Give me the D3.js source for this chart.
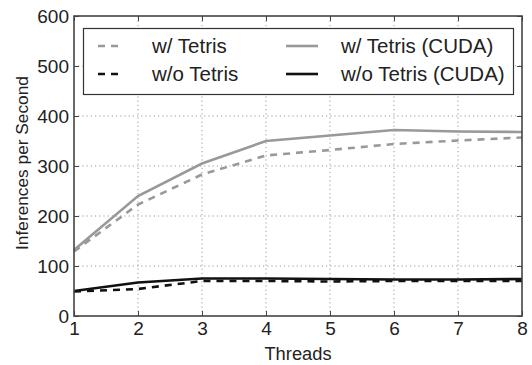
<!DOCTYPE html>
<html>
<head>
<meta charset="utf-8">
<script src="https://cdn.jsdelivr.net/npm/d3@7/dist/d3.min.js"></script>
<style>
  html, body { margin: 0; padding: 0; background: #fff; }
  svg { display: block; }
</style>
</head>
<body>
<div id="chart"></div>
<script>
// Throughput vs. thread count
const threads = [1, 2, 3, 4, 5, 6, 7, 8];
const withTetris = [129, 223, 283, 321, 332, 344, 351, 357];
const withTetrisCuda = [132, 240, 305, 350, 361, 372, 369, 368];
const withoutTetris = [49, 54, 70, 70, 69, 70, 70, 70];
const withoutTetrisCuda = [50, 67, 75, 75, 74, 73, 73, 74];
const yTicks = [0, 100, 200, 300, 400, 500, 600];
const xTicks = [1, 2, 3, 4, 5, 6, 7, 8];

const seriesList = [
  { name: "w/ Tetris", values: withTetris, color: "#999999", dash: "7,6" },
  { name: "w/o Tetris", values: withoutTetris, color: "#111111", dash: "7,6" },
  { name: "w/ Tetris (CUDA)", values: withTetrisCuda, color: "#999999", dash: null },
  { name: "w/o Tetris (CUDA)", values: withoutTetrisCuda, color: "#111111", dash: null }
];

const FONT = "'Liberation Sans', Arial, sans-serif";

const W = 532, H = 365;
const margin = { left: 74, right: 10, top: 16, bottom: 49 };
const svg = d3.select("#chart").append("svg").attr("width", W).attr("height", H);

const x = d3.scaleLinear().domain([1, 8]).range([margin.left, W - margin.right]);
const y = d3.scaleLinear().domain([0, 600]).range([H - margin.bottom, margin.top]);

// grid
const grid = svg.append("g").attr("stroke", "#9a9a9a").attr("stroke-width", 1).attr("stroke-dasharray", "1.2,3");
grid.selectAll("line.v").data(xTicks.slice(1, -1)).join("line")
  .attr("x1", d => x(d)).attr("x2", d => x(d))
  .attr("y1", y(0)).attr("y2", y(600));
grid.selectAll("line.h").data(yTicks.slice(1, -1)).join("line")
  .attr("x1", x(1)).attr("x2", x(8))
  .attr("y1", d => y(d)).attr("y2", d => y(d));

// axes with inward ticks
const tickFont = 19;
const axB = svg.append("g").attr("transform", `translate(0,${y(0)})`)
  .call(d3.axisBottom(x).tickValues(xTicks).tickFormat(d3.format("d")).tickSizeInner(-5).tickSizeOuter(0).tickPadding(5.5));
const axT = svg.append("g").attr("transform", `translate(0,${y(600)})`)
  .call(d3.axisTop(x).tickValues(xTicks).tickFormat("").tickSizeInner(-5).tickSizeOuter(0));
const axL = svg.append("g").attr("transform", `translate(${x(1)},0)`)
  .call(d3.axisLeft(y).tickValues(yTicks).tickSizeInner(-5).tickSizeOuter(0).tickPadding(5));
const axR = svg.append("g").attr("transform", `translate(${x(8)},0)`)
  .call(d3.axisRight(y).tickValues(yTicks).tickFormat("").tickSizeInner(-5).tickSizeOuter(0));
[axB, axT, axL, axR].forEach(a => {
  a.attr("font-family", null).style("font-family", FONT);
  a.select(".domain").remove();
  a.selectAll(".tick line").attr("stroke", "#444").attr("stroke-width", 1);
  a.selectAll("text").style("font-family", FONT).attr("font-size", tickFont).attr("fill", "#222");
});

// lines
const line = d3.line().x((d, i) => x(threads[i])).y(d => y(d));
svg.append("g").selectAll("path").data(seriesList).join("path")
  .attr("d", d => line(d.values))
  .attr("fill", "none")
  .attr("stroke", d => d.color)
  .attr("stroke-width", 2.6)
  .attr("stroke-dasharray", d => d.dash);

// frame
svg.append("rect")
  .attr("x", x(1)).attr("y", y(600))
  .attr("width", x(8) - x(1)).attr("height", y(0) - y(600))
  .attr("fill", "none").attr("stroke", "#444").attr("stroke-width", 1.6);

// legend
const lg = svg.append("g");
lg.append("rect").attr("x", 83.5).attr("y", 28.5).attr("width", 430).attr("height", 66)
  .attr("fill", "#fff").attr("stroke", "#333").attr("stroke-width", 1.2);
const cols = [{ lx: 98, tx: 152 }, { lx: 286, tx: 341 }];
const rows = [46, 74];
seriesList.forEach((s, i) => {
  const c = cols[Math.floor(i / 2)], r = rows[i % 2];
  lg.append("line").attr("x1", c.lx).attr("x2", c.lx + (s.dash ? 26 : 32))
    .attr("y1", r).attr("y2", r)
    .attr("stroke", s.color).attr("stroke-width", 2.6).attr("stroke-dasharray", s.dash);
  lg.append("text").attr("x", c.tx).attr("y", r).attr("dy", "0.36em")
    .style("font-family", FONT).attr("fill", "#222")
    .attr("font-size", 20.5).text(s.name);
});

// axis titles
svg.append("text").attr("x", (x(1) + x(8)) / 2).attr("y", 360)
  .style("font-family", FONT).attr("fill", "#222")
  .attr("text-anchor", "middle").attr("font-size", 18.3).text("Threads");
svg.append("text").attr("transform", "translate(27.5,163) rotate(-90)")
  .style("font-family", FONT).attr("fill", "#222")
  .attr("text-anchor", "middle").attr("font-size", 17.3).text("Inferences per Second");
</script>
</body>
</html>
